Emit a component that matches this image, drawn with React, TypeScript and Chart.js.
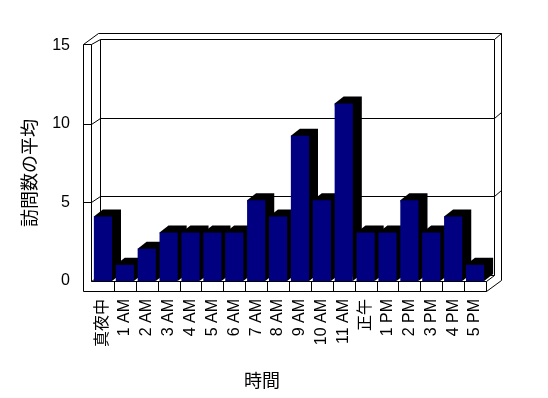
import React, { useEffect, useRef } from "react";
import { Chart, registerables } from "chart.js";

Chart.register(...registerables);

const categories = [
  "真夜中", "1 AM", "2 AM", "3 AM", "4 AM", "5 AM", "6 AM", "7 AM", "8 AM",
  "9 AM", "10 AM", "11 AM", "正午", "1 PM", "2 PM", "3 PM", "4 PM", "5 PM",
];
const visits = [4, 1, 2, 3, 3, 3, 3, 5, 4, 9, 5, 11, 3, 3, 5, 3, 4, 1];
const valueTicks = [0, 5, 10, 15];
const xTitle = "時間";
const yTitle = "訪問数の平均";

const FONT = '"Liberation Sans", Arial, "Noto Sans CJK JP", sans-serif';
const CJK = '"Noto Sans CJK JP", sans-serif';
const NAVY = "#000080";
const DX = 9;
const DY = -7;

function ln(ctx: CanvasRenderingContext2D, x1: number, y1: number, x2: number, y2: number) {
  ctx.beginPath();
  ctx.moveTo(x1 + 0.5, y1 + 0.5);
  ctx.lineTo(x2 + 0.5, y2 + 0.5);
  ctx.stroke();
}

function frame(chart: any) {
  const xs = chart.scales.x;
  const ys = chart.scales.y;
  const L = Math.round(xs.left);
  const R = Math.round(xs.right);
  const B = Math.round(ys.getPixelForValue(0));
  const topF = Math.round(ys.getPixelForValue(15)) - 1;
  return {
    xs, ys, L, R, B, topF,
    a: L - 9, b: L - 1, c: L + 8,
    rIn: R + 8, rOut: R + 15,
    topIn: topF - 5, topOut: topF - 11,
    floorBot: B + 10, floorBack: B - 6,
  };
}

const excel3d = {
  id: "excel3d",
  beforeDatasetsDraw(chart: any) {
    const ctx: CanvasRenderingContext2D = chart.ctx;
    const f = frame(chart);
    ctx.save();
    ctx.strokeStyle = "#000";
    ctx.lineWidth = 1;
    // left wall
    ln(ctx, f.a, f.topF, f.a, f.floorBot);
    ln(ctx, f.b, f.topF, f.b, f.B);
    ln(ctx, f.a, f.topF, f.b, f.topF);
    ln(ctx, f.a, f.topF, f.a + 15, f.topOut);
    ln(ctx, f.b, f.topF, f.c, f.topIn);
    // back wall
    ln(ctx, f.a + 15, f.topOut, f.rOut, f.topOut);
    ln(ctx, f.c, f.topIn, f.rIn, f.topIn);
    ln(ctx, f.rIn, f.topIn, f.rOut, f.topOut);
    ln(ctx, f.c, f.topIn, f.c, f.floorBack);
    ln(ctx, f.rIn, f.topIn, f.rIn, f.floorBack);
    ln(ctx, f.rOut, f.topOut, f.rOut, f.floorBot - 11);
    // floor back edges
    ln(ctx, f.b, f.B, f.c, f.floorBack);
    ln(ctx, f.c, f.floorBack, f.rIn, f.floorBack);
    // gridlines
    for (const v of valueTicks) {
      if (v === 0 || v === 15) continue;
      const yf = Math.round(f.ys.getPixelForValue(v));
      ln(ctx, f.a, yf, f.b, yf);
      ln(ctx, f.b, yf, f.c, yf - 6);
      ln(ctx, f.c, yf - 6, f.rIn, yf - 6);
      ln(ctx, f.rIn, yf - 6, f.rOut, yf - 12);
    }
    // bar depth (side + top)
    const meta = chart.getDatasetMeta(0);
    ctx.fillStyle = "#000";
    for (const el of meta.data) {
      const p = el.getProps(["x", "y", "base", "width"], true);
      const l = p.x - p.width / 2;
      const r = p.x + p.width / 2;
      ctx.beginPath();
      ctx.moveTo(l, p.y);
      ctx.lineTo(l + DX, p.y + DY);
      ctx.lineTo(r + DX, p.y + DY);
      ctx.lineTo(r + DX, p.base + DY);
      ctx.lineTo(r, p.base);
      ctx.closePath();
      ctx.fill();
    }
    ctx.restore();
  },
  afterDatasetsDraw(chart: any) {
    const ctx: CanvasRenderingContext2D = chart.ctx;
    const f = frame(chart);
    ctx.save();
    ctx.fillStyle = "#fff";
    ctx.fillRect(f.a + 1, f.B + 1, f.R - f.a - 1, f.floorBot - f.B - 1);
    ctx.strokeStyle = "#000";
    ctx.lineWidth = 1;
    ln(ctx, f.b, f.B, f.R, f.B);
    ln(ctx, f.a, f.floorBot, f.R, f.floorBot);
    ln(ctx, f.R, f.B, f.R, f.floorBot);
    for (let k = 1; k < categories.length; k++) {
      const x = Math.round((f.xs.getPixelForValue(k - 1) + f.xs.getPixelForValue(k)) / 2);
      ln(ctx, x, f.B, x, f.floorBot);
    }
    ln(ctx, f.R, f.B, f.rIn, f.floorBack);
    ln(ctx, f.R, f.floorBot, f.rOut, f.floorBot - 11);
    ctx.restore();
  },
  afterDraw(chart: any) {
    const ctx: CanvasRenderingContext2D = chart.ctx;
    ctx.save();
    ctx.fillStyle = "#000";
    ctx.font = `18px ${CJK}`;
    ctx.textAlign = "center";
    ctx.textBaseline = "middle";
    ctx.fillText(xTitle, 262, 380);
    ctx.translate(29, 173);
    ctx.rotate(-Math.PI / 2);
    ctx.fillText(yTitle, 0, 0);
    ctx.restore();
  },
};

export default function App() {
  const ref = useRef<HTMLCanvasElement | null>(null);
  useEffect(() => {
    if (!ref.current) return;
    const chart = new Chart(ref.current, {
      type: "bar",
      data: {
        labels: categories,
        datasets: [
          {
            label: yTitle,
            data: visits,
            backgroundColor: NAVY,
            borderWidth: 0,
            yAxisID: "yb",
            barPercentage: 0.83,
            categoryPercentage: 1,
          },
        ],
      },
      options: {
        animation: false,
        responsive: false,
        devicePixelRatio: 1,
        layout: { padding: { left: 0, right: 62, top: 39, bottom: 0 } },
        plugins: {
          legend: { display: false },
          tooltip: { enabled: false },
          title: { display: false },
        },
        scales: {
          x: {
            type: "category",
            grid: { display: false, drawTicks: false },
            border: { display: false },
            ticks: {
              autoSkip: false,
              minRotation: 90,
              maxRotation: 90,
              padding: 18,
              color: "#000",
              font: { family: FONT, size: 16 },
            },
            afterFit(scale: any) {
              scale.height = 117;
            },
          },
          y: {
            type: "linear",
            position: "left",
            min: 0,
            max: 15.39,
            grid: { display: false, drawTicks: false },
            border: { display: false },
            ticks: {
              padding: 22,
              color: "#000",
              font: { family: FONT, size: 16 },
            },
            afterBuildTicks(scale: any) {
              scale.ticks = valueTicks.map((value) => ({ value }));
            },
            afterFit(scale: any) {
              scale.width = 92;
            },
          },
          yb: {
            type: "linear",
            display: false,
            min: 0,
            max: 15,
          },
        },
      },
      plugins: [excel3d],
    });
    return () => chart.destroy();
  }, []);
  return (
    <div style={{ position: "fixed", left: 0, top: 0, width: 548, height: 398, background: "#fff" }}>
      <canvas ref={ref} width={548} height={398} style={{ display: "block" }} />
    </div>
  );
}
